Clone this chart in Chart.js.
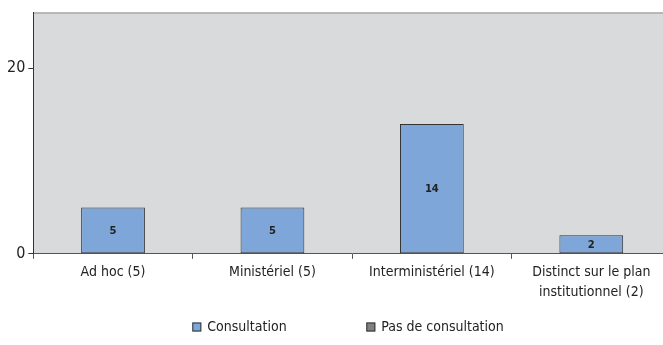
<!DOCTYPE html>
<html>
<head>
<meta charset="utf-8">
<script src="https://cdn.jsdelivr.net/npm/chart.js@4/dist/chart.umd.min.js"></script>
<style>
  html, body { margin: 0; padding: 0; background: #fff; overflow: hidden; }
  #wrap { position: relative; width: 680px; height: 345px; }
</style>
</head>
<body>
<div id="wrap"><canvas id="c"></canvas></div>
<script>
// Categories, series and axis ticks
const categories = ['Ad hoc (5)', 'Ministériel (5)', 'Interministériel (14)', ['Distinct sur le plan', 'institutionnel (2)']];
const consultation = [5, 5, 14, 2];
const pasDeConsultation = [0, 0, 0, 0];
const yTicks = [0, 20];
const yMax = 26;

const seriesColors = ['#7ea6d8', '#808080'];
const FONT = "'Liberation Sans Narrow', 'DejaVu Sans Condensed', 'Arial Narrow', sans-serif";

// Grey plot background plus a thin top frame line
const plotBackground = {
  id: 'plotBackground',
  beforeDraw(chart) {
    const { ctx, chartArea: a } = chart;
    ctx.save();
    ctx.fillStyle = '#d9dadc';
    ctx.fillRect(a.left, a.top, a.right - a.left, a.bottom - a.top);
    ctx.strokeStyle = '#a9a9a9';
    ctx.lineWidth = 1.5;
    ctx.beginPath();
    ctx.moveTo(a.left, a.top + 0.5);
    ctx.lineTo(a.right, a.top + 0.5);
    ctx.stroke();
    ctx.restore();
  }
};

// Value labels centred inside the Consultation bars
const barValues = {
  id: 'barValues',
  afterDatasetsDraw(chart) {
    const { ctx } = chart;
    const meta = chart.getDatasetMeta(0);
    ctx.save();
    ctx.fillStyle = '#222';
    ctx.font = "bold 10px 'DejaVu Sans', sans-serif";
    ctx.textAlign = 'center';
    ctx.textBaseline = 'middle';
    meta.data.forEach((bar, i) => {
      const v = chart.data.datasets[0].data[i];
      ctx.fillText(String(v), bar.x, (bar.y + bar.base) / 2 + 1);
    });
    ctx.restore();
  }
};

// Legend row under the axis labels, widely spaced entries
const legendRow = {
  id: 'legendRow',
  afterDraw(chart) {
    const { ctx, chartArea: a } = chart;
    const y = 327;
    const startX = a.left + 159;
    const step = 174;
    ctx.save();
    ctx.font = '14px ' + FONT;
    ctx.textBaseline = 'middle';
    ctx.textAlign = 'left';
    chart.data.datasets.forEach((ds, i) => {
      const x = startX + i * step;
      ctx.fillStyle = seriesColors[i];
      ctx.fillRect(x, y - 4.5, 9, 9);
      ctx.strokeStyle = '#333';
      ctx.lineWidth = 1;
      ctx.strokeRect(x + 0.5, y - 4, 8, 8);
      ctx.fillStyle = '#222';
      ctx.fillText(ds.label, x + 15, y);
    });
    ctx.restore();
  }
};

new Chart(document.getElementById('c'), {
  type: 'bar',
  data: {
    labels: categories,
    datasets: [
      {
        label: 'Consultation',
        data: consultation,
        backgroundColor: seriesColors[0],
        borderColor: '#333',
        borderWidth: 1,
        borderSkipped: false,
        categoryPercentage: 1,
        barPercentage: 0.4
      },
      {
        label: 'Pas de consultation',
        data: pasDeConsultation,
        backgroundColor: 'rgba(0,0,0,0)',
        borderWidth: 0,
        categoryPercentage: 1,
        barPercentage: 0.4
      }
    ]
  },
  options: {
    responsive: true,
    maintainAspectRatio: false,
    animation: false,
    grouped: false,
    layout: { padding: { left: 4, right: 9, top: 11, bottom: 39 } },
    scales: {
      x: {
        offset: true,
        grid: {
          offset: true,
          drawOnChartArea: false,
          drawTicks: true,
          tickLength: 5,
          color: '#555'
        },
        border: { display: true, color: '#555', width: 1 },
        ticks: {
          color: '#222',
          font: { family: FONT, size: 14, lineHeight: 1.4 },
          maxRotation: 0,
          autoSkip: false,
          padding: 4
        }
      },
      y: {
        min: 0,
        max: yMax,
        afterBuildTicks(axis) {
          axis.ticks = yTicks.map(v => ({ value: v }));
        },
        grid: {
          drawOnChartArea: false,
          drawTicks: true,
          tickLength: 5,
          color: '#333'
        },
        border: { display: true, color: '#333', width: 1 },
        ticks: {
          color: '#222',
          font: { family: FONT, size: 16 },
          padding: 3
        }
      }
    },
    plugins: {
      legend: { display: false },
      tooltip: { enabled: false }
    }
  },
  plugins: [plotBackground, barValues, legendRow]
});
</script>
</body>
</html>
